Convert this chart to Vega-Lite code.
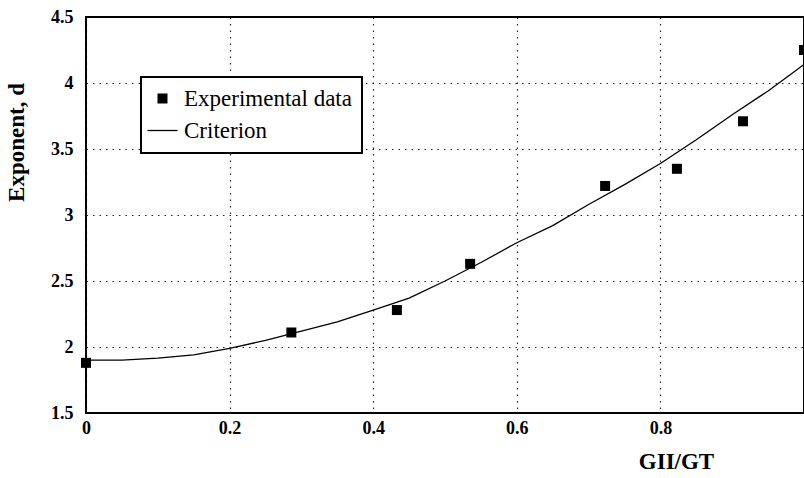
{
  "$schema": "https://vega.github.io/schema/vega-lite/v6.json",
  "width": 718,
  "height": 396,
  "autosize": "none",
  "padding": {"left": 86, "top": 17, "right": 0, "bottom": 65},
  "background": "white",
  "config": {
    "view": {"stroke": "black", "strokeWidth": 2},
    "font": "Liberation Serif",
    "axis": {
      "domain": false,
      "ticks": false,
      "grid": true,
      "gridColor": "black",
      "gridDash": [1.5, 5],
      "gridWidth": 1.2,
      "gridOpacity": 0.85,
      "labelFont": "Liberation Serif",
      "labelFontWeight": "bold",
      "labelFontSize": 18,
      "labelColor": "black",
      "labelFlush": false,
      "titleFont": "Liberation Serif",
      "titleFontWeight": "bold",
      "titleFontSize": 23,
      "titleColor": "black"
    },
    "legend": {
      "strokeColor": "black",
      "strokeWidth": 2,
      "fillColor": "white",
      "cornerRadius": 0,
      "padding": 10,
      "labelFont": "Liberation Serif",
      "labelFontSize": 23,
      "labelColor": "black",
      "labelLimit": 400,
      "labelOffset": 10,
      "rowPadding": 8
    }
  },
  "datasets": {
    "experimental": [
      {"x": 0.0, "d": 1.88, "series": "Experimental data"},
      {"x": 0.286, "d": 2.11, "series": "Experimental data"},
      {"x": 0.433, "d": 2.28, "series": "Experimental data"},
      {"x": 0.535, "d": 2.63, "series": "Experimental data"},
      {"x": 0.723, "d": 3.22, "series": "Experimental data"},
      {"x": 0.823, "d": 3.35, "series": "Experimental data"},
      {"x": 0.915, "d": 3.71, "series": "Experimental data"},
      {"x": 1.0, "d": 4.25, "series": "Experimental data"}
    ],
    "criterion": [
      {"x": 0.0, "d": 1.9},
      {"x": 0.05, "d": 1.9},
      {"x": 0.1, "d": 1.915},
      {"x": 0.15, "d": 1.94},
      {"x": 0.2, "d": 1.99},
      {"x": 0.25, "d": 2.05},
      {"x": 0.3, "d": 2.12},
      {"x": 0.35, "d": 2.19},
      {"x": 0.4, "d": 2.28},
      {"x": 0.45, "d": 2.37},
      {"x": 0.5, "d": 2.5},
      {"x": 0.55, "d": 2.64},
      {"x": 0.6, "d": 2.79},
      {"x": 0.65, "d": 2.92},
      {"x": 0.7, "d": 3.08},
      {"x": 0.75, "d": 3.23},
      {"x": 0.8, "d": 3.39},
      {"x": 0.85, "d": 3.57},
      {"x": 0.9, "d": 3.76},
      {"x": 0.95, "d": 3.94},
      {"x": 1.0, "d": 4.14}
    ]
  },
  "layer": [
    {
      "data": {"name": "criterion"},
      "mark": {"type": "line", "color": "black", "strokeWidth": 1.3, "clip": true},
      "encoding": {
        "x": {
          "field": "x",
          "type": "quantitative",
          "scale": {"domain": [0, 1], "nice": false},
          "axis": {
            "values": [0, 0.2, 0.4, 0.6, 0.8],
            "format": "~g",
            "labelPadding": 6,
            "title": "GII/GT",
            "titleX": 590,
            "titleY": 37,
            "titleAnchor": "middle"
          }
        },
        "y": {
          "field": "d",
          "type": "quantitative",
          "scale": {"domain": [1.5, 4.5], "nice": false, "zero": false},
          "axis": {
            "values": [1.5, 2, 2.5, 3, 3.5, 4, 4.5],
            "format": "~g",
            "labelPadding": 13,
            "title": "Exponent, d",
            "titleX": -58,
            "titleY": 125,
            "titleAnchor": "middle"
          }
        }
      }
    },
    {
      "data": {"name": "experimental"},
      "mark": {"type": "point", "filled": true, "color": "black", "opacity": 1, "size": 100, "clip": false},
      "encoding": {
        "x": {"field": "x", "type": "quantitative"},
        "y": {"field": "d", "type": "quantitative"},
        "shape": {
          "field": "series",
          "type": "nominal",
          "scale": {"domain": ["Experimental data", "Criterion"], "range": ["square", "M-3,-0.13H3V0.13H-3Z"]},
          "legend": {
            "title": null,
            "orient": "none",
            "legendX": 55,
            "legendY": 60,
            "symbolSize": 100,
            "symbolFillColor": "black",
            "symbolStrokeWidth": 0,
            "labelFont": "Liberation Serif",
            "labelFontSize": 23,
            "labelFontWeight": "normal"
          }
        }
      }
    }
  ]
}
